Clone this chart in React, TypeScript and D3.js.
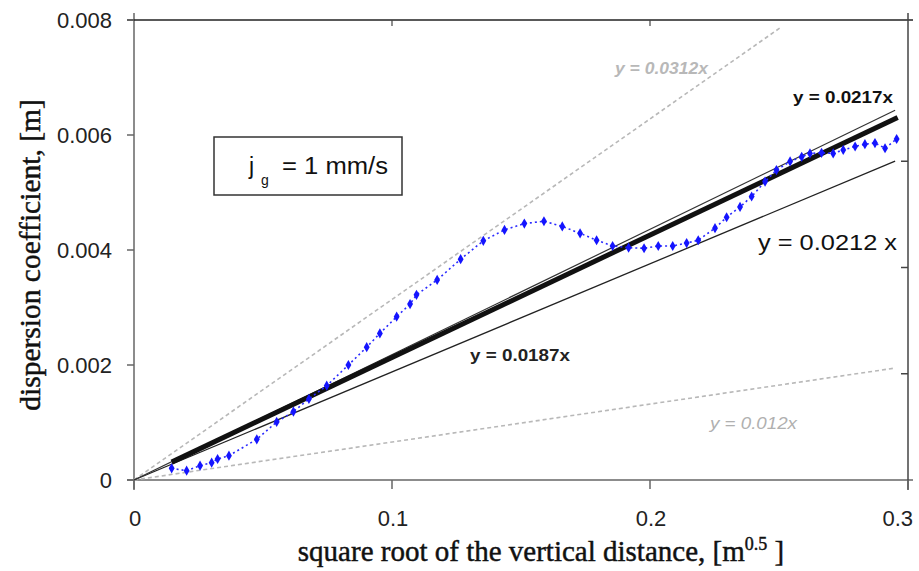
import React from 'react';
import * as d3 from 'd3';

// ---- data ----
const xTicks = [0, 0.1, 0.2, 0.3];
const xTickLabels = ['0', '0.1', '0.2', '0.3'];
const yTicks = [0, 0.002, 0.004, 0.006, 0.008];
const yTickLabels = ['0', '0.002', '0.004', '0.006', '0.008'];
const rightTicks = [0.002, 0.004, 0.006];
const topTicks = [0.1, 0.2];

// measured dispersion coefficient (blue)
const blueX = [0.0146, 0.0204, 0.0256, 0.0301, 0.0324, 0.0368, 0.0476, 0.0553, 0.0618, 0.0678, 0.0747, 0.0831, 0.0902, 0.0953, 0.1018, 0.107, 0.1095, 0.1175, 0.1266, 0.1354, 0.1436, 0.1513, 0.1589, 0.166, 0.1729, 0.1793, 0.1855, 0.1917, 0.1977, 0.2032, 0.2088, 0.2142, 0.2187, 0.2252, 0.2297, 0.2349, 0.2394, 0.2446, 0.249, 0.2543, 0.2588, 0.262, 0.2665, 0.271, 0.2749, 0.2795, 0.2833, 0.2872, 0.2911, 0.2956];
const blueY = [0.000203, 0.000162, 0.000249, 0.000301, 0.000365, 0.000423, 0.000708, 0.00101, 0.00119, 0.00141, 0.00164, 0.0020, 0.00231, 0.00255, 0.00284, 0.00306, 0.00322, 0.00348, 0.00384, 0.00416, 0.00435, 0.00446, 0.0045, 0.00441, 0.00429, 0.00417, 0.00407, 0.00404, 0.00403, 0.00407, 0.00407, 0.00412, 0.00417, 0.00438, 0.00457, 0.00475, 0.00493, 0.00519, 0.00539, 0.00554, 0.00562, 0.00568, 0.00569, 0.00568, 0.00574, 0.0058, 0.00584, 0.00586, 0.00577, 0.00593];

// straight lines: slope and x-extent
const upperBoundSlope = 0.0314; const upperBoundX = [0, 0.251];
const lowerBoundSlope = 0.0066; const lowerBoundX = [0, 0.295];
const fit0187Slope = 0.0188; const fit0187X = [0, 0.295];
const fit0217Slope = 0.0218; const fit0217X = [0, 0.295];
const fit0212Slope = 0.0213; const fit0212X = [0.0146, 0.296];

const W = 919, H = 571;
const x = d3.scaleLinear().domain([0, 0.3]).range([134, 908]);
const y = d3.scaleLinear().domain([0, 0.008]).range([480, 20]);
const yR = d3.scaleLinear().domain([0, 0.008]).range([480, 55]);

const line = d3.line<[number, number]>().x(d => x(d[0])).y(d => y(d[1]));
const seg = (slope: number, xs: number[]) => line(xs.map(v => [v, v * slope] as [number, number]));

export default function App() {
  const blue = blueX.map((v, i) => [v, blueY[i]] as [number, number]);
  const diamond = d3.symbol().type(d3.symbolDiamond).size(30)();
  const axisCol = '#666';
  const serif = 'Liberation Serif, Times New Roman, serif';
  return (
    <svg width={W} height={H} style={{ position: 'absolute', left: 0, top: 0, background: '#fff' }}
      fontFamily="Arial, Liberation Sans, sans-serif">
      {/* frame */}
      <line x1={x(0)} x2={x(0)} y1={13} y2={490} stroke={axisCol} strokeWidth={1.5} />
      <line x1={127} x2={913} y1={y(0)} y2={y(0)} stroke={axisCol} strokeWidth={1.5} />
      <line x1={127} x2={913} y1={y(0.008)} y2={y(0.008)} stroke="#222" strokeWidth={1.5} />
      <line x1={x(0.3)} x2={x(0.3)} y1={13} y2={490} stroke="#444" strokeWidth={1.5} />
      {yTicks.map(t => <line key={'yt' + t} x1={127} x2={x(0)} y1={y(t)} y2={y(t)} stroke={axisCol} strokeWidth={1.5} />)}
      {xTicks.map(t => <line key={'xt' + t} x1={x(t)} x2={x(t)} y1={y(0)} y2={y(0) + 9} stroke={axisCol} strokeWidth={1.5} />)}
      {rightTicks.map(t => <line key={'rt' + t} x1={x(0.3) - 7} x2={x(0.3)} y1={yR(t)} y2={yR(t)} stroke="#444" strokeWidth={1.5} />)}
      {topTicks.map(t => <line key={'tt' + t} x1={x(t)} x2={x(t)} y1={y(0.008)} y2={y(0.008) + 6} stroke="#444" strokeWidth={1.2} />)}

      {/* tick labels */}
      {yTicks.map((t, i) => (
        <text key={'yl' + t} x={112} y={y(t)} dy="0.35em" textAnchor="end" fontSize={22} fill="#222">{yTickLabels[i]}</text>
      ))}
      {xTicks.map((t, i) => {
        const last = i === xTicks.length - 1;
        return (
          <text key={'xl' + t} x={last ? x(t) + 5 : x(t) + 1} y={518} dy="0.35em" textAnchor={last ? 'end' : 'middle'} fontSize={22} fill="#222">{xTickLabels[i]}</text>
        );
      })}

      {/* axis titles */}
      <text x={541} y={561} textAnchor="middle" fontFamily={serif} fontSize={29} fill="#111" stroke="#111" strokeWidth={0.45}>
        square root of the vertical distance, [m<tspan dy={-11} fontSize={18}>0.5</tspan><tspan dy={11}> ]</tspan>
      </text>
      <text transform="translate(40,255) rotate(-90)" textAnchor="middle" fontFamily={serif} fontSize={29.5} fill="#111" stroke="#111" strokeWidth={0.45}>
        dispersion coefficient, [m]
      </text>

      {/* lines */}
      <path d={seg(upperBoundSlope, upperBoundX) || ''} fill="none" stroke="#b8b8b8" strokeWidth={1.6} strokeDasharray="4,3" />
      <path d={seg(lowerBoundSlope, lowerBoundX) || ''} fill="none" stroke="#b8b8b8" strokeWidth={1.6} strokeDasharray="4,3" />
      <path d={seg(fit0187Slope, fit0187X) || ''} fill="none" stroke="#222" strokeWidth={1.3} />
      <path d={seg(fit0217Slope, fit0217X) || ''} fill="none" stroke="#333" strokeWidth={1.2} />
      <path d={seg(fit0212Slope, fit0212X) || ''} fill="none" stroke="#111" strokeWidth={5} />

      {/* blue measured series */}
      <path d={line(blue) || ''} fill="none" stroke="#2a2aff" strokeWidth={1.6} strokeDasharray="2,3" />
      {blue.map((d, i) => (
        <path key={'b' + i} d={diamond || ''} transform={`translate(${x(d[0])},${y(d[1])})`} fill="#1414ff" />
      ))}

      {/* legend box */}
      <rect x={214} y={137} width={188} height={58} fill="#fff" stroke="#333" strokeWidth={1.5} />
      <text x={249} y={174} fontSize={23} fill="#111">j</text>
      <text x={261} y={185} fontSize={14} fill="#111">g</text>
      <text x={282} y={174} fontSize={23} fill="#111" textLength={106} lengthAdjust="spacingAndGlyphs">= 1 mm/s</text>

      {/* equation labels */}
      <text x={615} y={68} dy="0.35em" fontSize={16} fontWeight="bold" fontStyle="italic" fill="#b8b8b8" textLength={93} lengthAdjust="spacingAndGlyphs">y = 0.0312x</text>
      <text x={793} y={97} dy="0.35em" fontSize={17} fontWeight="bold" fill="#111" textLength={100} lengthAdjust="spacingAndGlyphs">y = 0.0217x</text>
      <text x={758} y={242} dy="0.35em" fontSize={22} fill="#111" textLength={139} lengthAdjust="spacingAndGlyphs">y = 0.0212 x</text>
      <text x={470} y={355} dy="0.35em" fontSize={17} fontWeight="bold" fill="#222" textLength={100} lengthAdjust="spacingAndGlyphs">y = 0.0187x</text>
      <text x={710} y={423} dy="0.35em" fontSize={16} fontStyle="italic" fill="#b0b0b0" textLength={87} lengthAdjust="spacingAndGlyphs">y =  0.012x</text>
    </svg>
  );
}
